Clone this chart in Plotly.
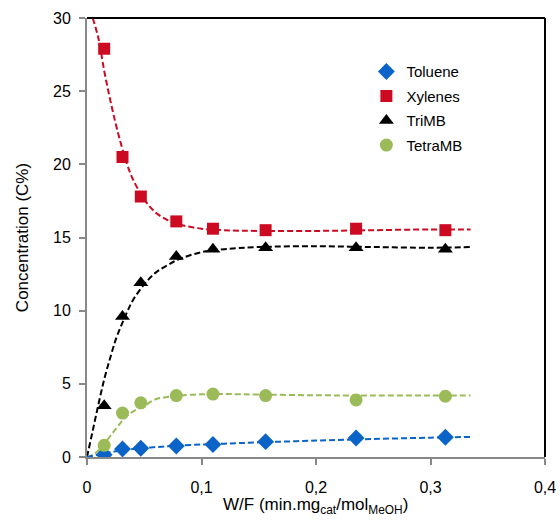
import plotly.graph_objects as go

# Measured data
wf = [0.015, 0.031, 0.047, 0.078, 0.110, 0.156, 0.235, 0.313]
toluene = [0.15, 0.55, 0.60, 0.75, 0.85, 1.05, 1.30, 1.35]
xylenes = [27.9, 20.5, 17.8, 16.1, 15.6, 15.5, 15.6, 15.5]
trimb = [3.5, 9.6, 11.9, 13.7, 14.2, 14.3, 14.3, 14.2]
tetramb = [0.8, 3.0, 3.7, 4.2, 4.3, 4.2, 3.9, 4.15]

# Fitted (dashed) curves
fit_x_xyl = [0.005, 0.010, 0.015, 0.020, 0.025, 0.030, 0.035, 0.040, 0.050, 0.060,
             0.070, 0.080, 0.100, 0.120, 0.150, 0.200, 0.250, 0.300, 0.335]
fit_xylenes = [30.0, 28.6, 26.4, 24.5, 22.8, 21.3, 20.0, 19.0, 17.6, 16.7,
               16.2, 15.9, 15.6, 15.5, 15.45, 15.45, 15.5, 15.55, 15.55]
fit_x = [0.0, 0.005, 0.010, 0.015, 0.020, 0.025, 0.030, 0.035, 0.040, 0.050, 0.060,
         0.070, 0.080, 0.100, 0.120, 0.150, 0.200, 0.250, 0.300, 0.335]
fit_trimb = [0.0, 1.8, 3.6, 5.3, 6.7, 8.0, 9.0, 9.9, 10.7, 11.8, 12.6,
             13.1, 13.5, 14.0, 14.2, 14.35, 14.4, 14.35, 14.3, 14.35]
fit_tetramb = [0.0, 0.15, 0.45, 0.9, 1.4, 1.9, 2.4, 2.8, 3.1, 3.5, 3.95,
               4.1, 4.2, 4.28, 4.3, 4.27, 4.22, 4.2, 4.2, 4.2]
fit_toluene = [0.0, 0.09, 0.17, 0.25, 0.32, 0.39, 0.45, 0.5, 0.55, 0.62, 0.68,
               0.73, 0.78, 0.85, 0.91, 1.0, 1.12, 1.23, 1.32, 1.37]

x_ticks = [0, 0.1, 0.2, 0.3, 0.4]
x_ticktext = ["0", "0,1", "0,2", "0,3", "0,4"]
y_ticks = [0, 5, 10, 15, 20, 25, 30]

c_tol = "#0A64C8"
c_xyl = "#CC0A22"
c_tri = "#000000"
c_tet = "#9BBB59"

fig = go.Figure()

dash = "6px,3px"
for fx, fy, col in [(fit_x_xyl, fit_xylenes, c_xyl), (fit_x, fit_trimb, c_tri),
                    (fit_x, fit_tetramb, c_tet), (fit_x, fit_toluene, c_tol)]:
    fig.add_trace(go.Scatter(x=fx, y=fy, mode="lines", line=dict(color=col, width=2, dash=dash, shape="spline"),
                             showlegend=False, hoverinfo="skip"))

series = [("Toluene", toluene, c_tol, "diamond", 13),
          ("Xylenes", xylenes, c_xyl, "square", 12),
          ("TriMB", trimb, c_tri, "triangle-up", 13),
          ("TetraMB", tetramb, c_tet, "circle", 13)]
for name, ys, col, sym, sz in series:
    fig.add_trace(go.Scatter(x=wf, y=ys, mode="markers", name=name, legendgroup=name,
                             marker=dict(color=col, symbol=sym, size=sz, line=dict(width=0))))

fig.update_layout(
    width=560, height=522,
    margin=dict(l=87, r=15, t=18, b=65, autoexpand=False),
    paper_bgcolor="white", plot_bgcolor="white",
    font=dict(family="Liberation Sans, Arial, sans-serif", size=16, color="#000"),
    showlegend=True,
    legend=dict(x=0.61, y=0.915, xanchor="left", yanchor="top", bgcolor="rgba(0,0,0,0)",
                font=dict(size=15), itemwidth=30, tracegroupgap=2, traceorder="grouped"),
    xaxis=dict(range=[0, 0.4], tickvals=x_ticks, ticktext=x_ticktext, showgrid=False, zeroline=False,
               automargin=False, ticklabelstandoff=9,
               showline=True, linecolor="#888", linewidth=2, ticks="outside", ticklen=6, tickcolor="#888",
               tickwidth=1.5),
    yaxis=dict(range=[0, 30], tickvals=y_ticks, showgrid=False, zeroline=False,
               automargin=False, ticklabelstandoff=5,
               showline=True, linecolor="#888", linewidth=2, ticks="outside", ticklen=6, tickcolor="#888",
               tickwidth=1.5,
               title=dict(text="Concentration (C%)", font=dict(size=17), standoff=20)),
    annotations=[
        dict(text="W/F (min.mg<sub>cat</sub>/mol<sub>MeOH</sub>)", xref="paper", yref="paper",
             x=0.498, y=-0.112, xanchor="center", yanchor="middle", showarrow=False, font=dict(size=17)),
    ],
    shapes=[
        dict(type="line", xref="paper", yref="paper", x0=0, x1=1, y0=1, y1=1, line=dict(color="black", width=2)),
        dict(type="line", xref="paper", yref="paper", x0=1, x1=1, y0=0, y1=1, line=dict(color="black", width=2)),
    ],
)

fig.write_html("out.html")
